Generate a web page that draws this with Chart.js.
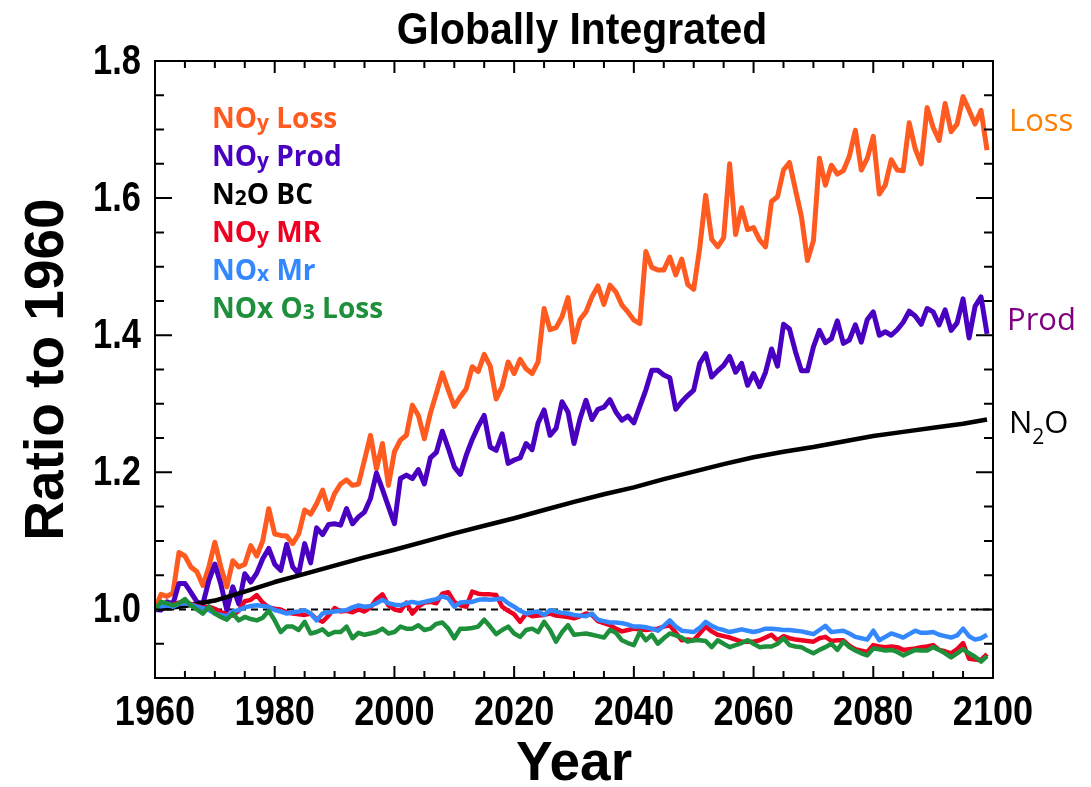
<!DOCTYPE html>
<html>
<head>
<meta charset="utf-8">
<script src="https://cdn.jsdelivr.net/npm/chart.js@4.4.1/dist/chart.umd.min.js"></script>
<style>
  html, body { margin: 0; padding: 0; background: #fff; }
  #wrap { width: 1091px; height: 787px; }
</style>
</head>
<body>
<div id="wrap"><canvas id="chart" width="1091" height="787"></canvas></div>
<script>
// yearly values, 1960 .. 2099
const firstYear = 1960;

const noyLoss = [
  1.000, 1.022, 1.019, 1.024, 1.083, 1.078, 1.062, 1.055, 1.035, 1.062,
  1.098, 1.062, 1.033, 1.071, 1.062, 1.066, 1.093, 1.078, 1.100, 1.147,
  1.110, 1.108, 1.107, 1.096, 1.110, 1.145, 1.139, 1.154, 1.174, 1.146,
  1.169, 1.183, 1.189, 1.181, 1.183, 1.218, 1.254, 1.205, 1.242, 1.181,
  1.230, 1.247, 1.254, 1.298, 1.283, 1.249, 1.286, 1.315, 1.345, 1.320,
  1.296, 1.310, 1.322, 1.354, 1.347, 1.372, 1.355, 1.307, 1.325, 1.361,
  1.344, 1.365, 1.351, 1.344, 1.361, 1.439, 1.408, 1.411, 1.427, 1.455,
  1.390, 1.423, 1.434, 1.456, 1.472, 1.445, 1.473, 1.463, 1.444, 1.434,
  1.422, 1.417, 1.522, 1.499, 1.495, 1.495, 1.514, 1.488, 1.511, 1.474,
  1.467, 1.527, 1.604, 1.540, 1.529, 1.542, 1.650, 1.547, 1.586, 1.554,
  1.557, 1.539, 1.529, 1.595, 1.602, 1.641, 1.652, 1.612, 1.573, 1.509,
  1.538, 1.658, 1.619, 1.648, 1.635, 1.640, 1.661, 1.699, 1.641, 1.658,
  1.690, 1.606, 1.619, 1.656, 1.641, 1.640, 1.710, 1.672, 1.650, 1.732,
  1.703, 1.684, 1.738, 1.697, 1.708, 1.748, 1.728, 1.708, 1.728, 1.670
];

const noyProd = [
  1.000, 0.999, 1.011, 1.008, 1.038, 1.038, 1.025, 1.011, 1.008, 1.042,
  1.066, 1.037, 0.999, 1.033, 1.008, 1.052, 1.040, 1.053, 1.074, 1.089,
  1.066, 1.057, 1.095, 1.062, 1.052, 1.096, 1.068, 1.119, 1.109, 1.124,
  1.125, 1.123, 1.147, 1.125, 1.135, 1.142, 1.162, 1.199, 1.175, 1.150,
  1.125, 1.191, 1.196, 1.191, 1.204, 1.183, 1.221, 1.229, 1.260, 1.235,
  1.208, 1.197, 1.225, 1.248, 1.267, 1.283, 1.237, 1.232, 1.256, 1.213,
  1.218, 1.221, 1.242, 1.233, 1.272, 1.291, 1.254, 1.264, 1.303, 1.288,
  1.242, 1.278, 1.305, 1.277, 1.292, 1.295, 1.306, 1.288, 1.276, 1.282,
  1.272, 1.296, 1.320, 1.349, 1.349, 1.342, 1.338, 1.292, 1.303, 1.312,
  1.320, 1.359, 1.373, 1.339, 1.348, 1.356, 1.369, 1.346, 1.359, 1.327,
  1.344, 1.325, 1.346, 1.380, 1.355, 1.416, 1.409, 1.376, 1.348, 1.348,
  1.383, 1.407, 1.389, 1.395, 1.421, 1.388, 1.393, 1.415, 1.390, 1.423,
  1.434, 1.400, 1.405, 1.400, 1.408, 1.419, 1.435, 1.428, 1.416, 1.439,
  1.434, 1.415, 1.437, 1.407, 1.418, 1.453, 1.396, 1.442, 1.456, 1.402
];

const noyMR = [
  1.000, 1.008, 1.006, 1.007, 1.010, 1.009, 1.008, 1.005, 1.003, 1.004,
  1.001, 0.996, 0.993, 0.991, 0.998, 1.012, 1.014, 1.021, 1.010, 1.003,
  1.001, 1.000, 0.996, 0.994, 0.993, 0.992, 0.994, 0.986, 0.982, 0.991,
  1.002, 0.997, 0.998, 0.996, 1.000, 0.997, 1.003, 1.015, 1.022, 1.006,
  1.000, 0.998, 1.010, 0.994, 1.004, 1.010, 1.011, 1.009, 1.023, 1.025,
  1.011, 1.006, 1.004, 1.026, 1.023, 1.022, 1.022, 1.021, 1.004, 0.998,
  0.993, 0.982, 0.994, 0.990, 0.991, 0.992, 0.994, 0.991, 0.990, 0.989,
  0.987, 0.990, 0.994, 0.992, 0.983, 0.980, 0.977, 0.972, 0.968, 0.970,
  0.972, 0.971, 0.970, 0.971, 0.972, 0.975, 0.977, 0.966, 0.955, 0.956,
  0.955, 0.965, 0.975, 0.968, 0.963, 0.961, 0.959, 0.956, 0.953, 0.953,
  0.953, 0.955, 0.959, 0.963, 0.955, 0.961, 0.958, 0.956, 0.955, 0.954,
  0.953, 0.958, 0.960, 0.954, 0.955, 0.955, 0.947, 0.942, 0.940, 0.938,
  0.948, 0.946, 0.945, 0.946, 0.945, 0.941, 0.942, 0.943, 0.945, 0.946,
  0.948, 0.941, 0.939, 0.936, 0.942, 0.951, 0.928, 0.927, 0.926, 0.935
];

const noxMr = [
  1.000, 1.004, 1.006, 1.004, 1.008, 1.009, 1.007, 1.004, 1.002, 0.999,
  0.994, 0.992, 0.990, 0.997, 0.999, 1.003, 1.005, 1.006, 1.005, 1.004,
  0.999, 0.997, 0.994, 0.996, 0.997, 0.999, 0.994, 0.984, 0.994, 0.996,
  0.997, 0.998, 0.999, 1.003, 1.006, 1.004, 1.005, 1.009, 1.014, 1.009,
  1.007, 1.006, 1.009, 1.011, 1.009, 1.011, 1.013, 1.015, 1.019, 1.016,
  1.004, 1.010, 1.011, 1.011, 1.014, 1.015, 1.014, 1.015, 1.016, 1.009,
  1.004, 0.998, 0.994, 0.996, 0.997, 0.992, 0.999, 0.997, 0.995, 0.994,
  0.992, 0.991, 0.990, 0.994, 0.985, 0.983, 0.981, 0.981, 0.980, 0.978,
  0.975, 0.975, 0.974, 0.972, 0.969, 0.976, 0.984, 0.975, 0.969, 0.968,
  0.967, 0.973, 0.982, 0.976, 0.972, 0.970, 0.967, 0.969, 0.971, 0.969,
  0.967, 0.969, 0.972, 0.972, 0.971, 0.970, 0.970, 0.969, 0.968, 0.966,
  0.964, 0.970, 0.976, 0.967, 0.968, 0.969, 0.965, 0.960, 0.958, 0.956,
  0.969, 0.955, 0.960, 0.965, 0.962, 0.959, 0.964, 0.969, 0.966, 0.966,
  0.967, 0.963, 0.961, 0.959, 0.962, 0.972, 0.961, 0.956, 0.958, 0.963
];

const noxO3Loss = [
  1.000, 1.011, 1.009, 1.006, 1.009, 1.015, 1.006, 1.000, 0.994, 1.004,
  0.994, 0.989, 0.985, 0.994, 0.984, 0.989, 0.986, 0.984, 0.988, 0.998,
  0.984, 0.967, 0.975, 0.975, 0.970, 0.982, 0.965, 0.967, 0.971, 0.963,
  0.967, 0.967, 0.975, 0.958, 0.966, 0.963, 0.965, 0.967, 0.972, 0.965,
  0.967, 0.975, 0.972, 0.972, 0.977, 0.970, 0.972, 0.979, 0.981, 0.972,
  0.958, 0.972, 0.972, 0.973, 0.975, 0.985, 0.975, 0.964, 0.970, 0.975,
  0.965, 0.960, 0.970, 0.972, 0.967, 0.982, 0.970, 0.953, 0.967, 0.977,
  0.963, 0.964, 0.965, 0.963, 0.961, 0.959, 0.970, 0.966, 0.955, 0.951,
  0.948, 0.967, 0.955, 0.963, 0.950, 0.958, 0.965, 0.962, 0.959, 0.953,
  0.955, 0.955, 0.954, 0.945, 0.955, 0.950, 0.945, 0.948, 0.951, 0.955,
  0.950, 0.945, 0.946, 0.946, 0.950, 0.958, 0.948, 0.946, 0.945, 0.940,
  0.936, 0.941, 0.945, 0.950, 0.941, 0.953, 0.945, 0.940, 0.936, 0.933,
  0.943, 0.942, 0.940, 0.941, 0.938, 0.933, 0.937, 0.941, 0.940, 0.940,
  0.945, 0.941, 0.936, 0.930, 0.936, 0.942, 0.936, 0.931, 0.924, 0.932
];

// N2O boundary condition is smooth: read every 5 years
const n2oYears = [1960, 1965, 1970, 1975, 1980, 1985, 1990, 1995, 2000, 2005,
                  2010, 2015, 2020, 2025, 2030, 2035, 2040, 2045, 2050, 2055,
                  2060, 2065, 2070, 2075, 2080, 2085, 2090, 2095, 2099];
const n2oBC = [1.000, 1.005, 1.013, 1.026, 1.040, 1.052, 1.064, 1.076, 1.087, 1.099,
               1.111, 1.122, 1.133, 1.145, 1.157, 1.168, 1.178, 1.190, 1.201, 1.212,
               1.222, 1.230, 1.237, 1.245, 1.253, 1.259, 1.265, 1.271, 1.277];

const xTickLabels = [1960, 1980, 2000, 2020, 2040, 2060, 2080, 2100];
const yTickLabels = [1.0, 1.2, 1.4, 1.6, 1.8];

function yearly(values) {
    return values.map((v, i) => ({ x: firstYear + i, y: v }));
}

const wide = "'Liberation Sans', Arial, sans-serif";
const legendFont = "'Open Sans', 'Noto Sans', sans-serif";

const lineStyle = { pointRadius: 0, tension: 0, fill: false, borderJoinStyle: 'round' };

// legend rows: pieces are [text, isSubscript]
const legendRows = [
    { color: '#ff5a1f', parts: [['NO', 0], ['y', 1], [' Loss', 0]] },
    { color: '#4a00c0', parts: [['NO', 0], ['y', 1], [' Prod', 0]] },
    { color: '#000000', parts: [['N', 0], ['2', 1], ['O BC', 0]] },
    { color: '#ee0022', parts: [['NO', 0], ['y', 1], [' MR', 0]] },
    { color: '#3388ff', parts: [['NO', 0], ['x', 1], [' Mr', 0]] },
    { color: '#1e8f3a', parts: [['NOx O', 0], ['3', 1], [' Loss', 0]] }
];

function drawParts(ctx, parts, x, y, size, weight) {
    parts.forEach(([t, sub]) => {
        const s = sub ? Math.round(size * 0.74) : size;
        ctx.font = `${weight} ${s}px ${legendFont}`;
        ctx.fillText(t, x, y + (sub ? size * 0.06 : 0));
        x += ctx.measureText(t).width;
    });
}

// condensed bold text, like the narrow plot font
function narrowText(ctx, text, x, y, size, align, squeeze) {
    ctx.save();
    ctx.font = `bold ${size}px ${wide}`;
    ctx.translate(x, y);
    ctx.scale(squeeze, 1);
    ctx.textAlign = align;
    ctx.fillText(text, 0, 0);
    ctx.restore();
}

const decorPlugin = {
    id: 'decor',
    afterDraw(chart) {
        const { ctx, chartArea: a, scales: { x, y } } = chart;
        ctx.save();
        ctx.fillStyle = '#000';

        // title
        ctx.textBaseline = 'alphabetic';
        narrowText(ctx, 'Globally Integrated', 582, 44, 44, 'center', 0.93);

        // tick labels from the library's ticks
        ctx.textBaseline = 'middle';
        y.ticks.forEach(t => {
            narrowText(ctx, t.value.toFixed(1), a.left - 14, y.getPixelForValue(t.value) + 1, 42, 'right', 0.82);
        });
        ctx.textBaseline = 'top';
        x.ticks.forEach(t => {
            narrowText(ctx, String(t.value), x.getPixelForValue(t.value), a.bottom + 14, 43, 'center', 0.84);
        });

        // frame and inward ticks on all four sides
        ctx.strokeStyle = '#000';
        ctx.lineWidth = 2;
        ctx.strokeRect(a.left, a.top, a.right - a.left, a.bottom - a.top);
        ctx.beginPath();
        for (let yr = 1960; yr <= 2100; yr += 5) {
            const px = x.getPixelForValue(yr);
            const len = yr % 20 === 0 ? 12 : 7;
            ctx.moveTo(px, a.bottom); ctx.lineTo(px, a.bottom - len);
            ctx.moveTo(px, a.top); ctx.lineTo(px, a.top + len);
        }
        for (let k = 19; k <= 36; k++) {
            const py = y.getPixelForValue(k * 0.05);
            const len = k % 4 === 0 ? 17 : 9;
            ctx.moveTo(a.left, py); ctx.lineTo(a.left + len, py);
            ctx.moveTo(a.right, py); ctx.lineTo(a.right - len, py);
        }
        ctx.stroke();

        // legend
        ctx.textAlign = 'left';
        ctx.textBaseline = 'alphabetic';
        legendRows.forEach((row, i) => {
            ctx.fillStyle = row.color;
            drawParts(ctx, row.parts, a.left + 57, a.top + 67 + i * 37.9, 28, 'bold');
        });

        // labels at the right end of the lines
        ctx.font = `31px ${legendFont}`;
        ctx.fillStyle = '#ff7f00';
        ctx.fillText('Loss', a.right + 16, 131);
        ctx.fillStyle = '#800080';
        ctx.fillText('Prod', a.right + 14, 330);
        ctx.fillStyle = '#000';
        ctx.fillText('N', a.right + 16, 433);
        const nw = ctx.measureText('N').width;
        ctx.font = `21px ${legendFont}`;
        ctx.fillText('2', a.right + 16 + nw, 444);
        const tw = ctx.measureText('2').width;
        ctx.font = `31px ${legendFont}`;
        ctx.fillText('O', a.right + 16 + nw + tw, 433);

        ctx.restore();
    }
};

new Chart(document.getElementById('chart'), {
    type: 'line',
    data: {
        datasets: [
            { label: 'NOy Loss', data: yearly(noyLoss), borderColor: '#ff5a1f', borderWidth: 5, order: 6, ...lineStyle },
            { label: 'NOy Prod', data: yearly(noyProd), borderColor: '#4a00c0', borderWidth: 5, order: 5, ...lineStyle },
            { label: 'N2O BC', data: n2oYears.map((yr, i) => ({ x: yr, y: n2oBC[i] })), borderColor: '#000000', borderWidth: 4.5, order: 4, ...lineStyle },
            { label: 'NOy MR', data: yearly(noyMR), borderColor: '#ee0022', borderWidth: 4.5, order: 3, ...lineStyle },
            { label: 'NOx Mr', data: yearly(noxMr), borderColor: '#3388ff', borderWidth: 4.5, order: 2, ...lineStyle },
            { label: 'NOx O3 Loss', data: yearly(noxO3Loss), borderColor: '#1e8f3a', borderWidth: 4.5, order: 1, ...lineStyle },
            { label: 'ref', data: [{ x: 1960, y: 1 }, { x: 2100, y: 1 }], borderColor: '#000', borderWidth: 2, borderDash: [7, 5], order: 7, ...lineStyle }
        ]
    },
    options: {
        responsive: false,
        animation: false,
        events: [],
        layout: { padding: { left: 0, right: 98, top: 61, bottom: 0 } },
        plugins: {
            legend: { display: false },
            tooltip: { enabled: false },
            title: { display: false }
        },
        scales: {
            x: {
                type: 'linear',
                min: 1960,
                max: 2100,
                afterBuildTicks: (scale) => { scale.ticks = xTickLabels.map(v => ({ value: v })); },
                afterFit: (scale) => { scale.height = 109; },
                grid: { display: false },
                border: { display: false },
                ticks: {
                    callback: (v) => String(v),
                    color: 'rgba(0,0,0,0)',
                    padding: 10,
                    maxRotation: 0,
                    font: { family: wide, size: 36, weight: 'bold' }
                },
                title: {
                    display: true,
                    text: 'Year',
                    color: '#000',
                    padding: { top: 0, bottom: 0 },
                    font: { family: wide, size: 55, weight: 'bold', lineHeight: 0.8 }
                }
            },
            y: {
                type: 'linear',
                min: 0.9,
                max: 1.8,
                afterBuildTicks: (scale) => { scale.ticks = yTickLabels.map(v => ({ value: v })); },
                afterFit: (scale) => { scale.width = 155; },
                grid: { display: false },
                border: { display: false },
                ticks: {
                    callback: (v) => v.toFixed(1),
                    color: 'rgba(0,0,0,0)',
                    padding: 14,
                    font: { family: wide, size: 36, weight: 'bold' }
                },
                title: {
                    display: true,
                    text: 'Ratio to 1960',
                    color: '#000',
                    padding: { top: 15, bottom: 0 },
                    font: { family: wide, size: 55, weight: 'bold' }
                }
            }
        }
    },
    plugins: [decorPlugin]
});
</script>
</body>
</html>
